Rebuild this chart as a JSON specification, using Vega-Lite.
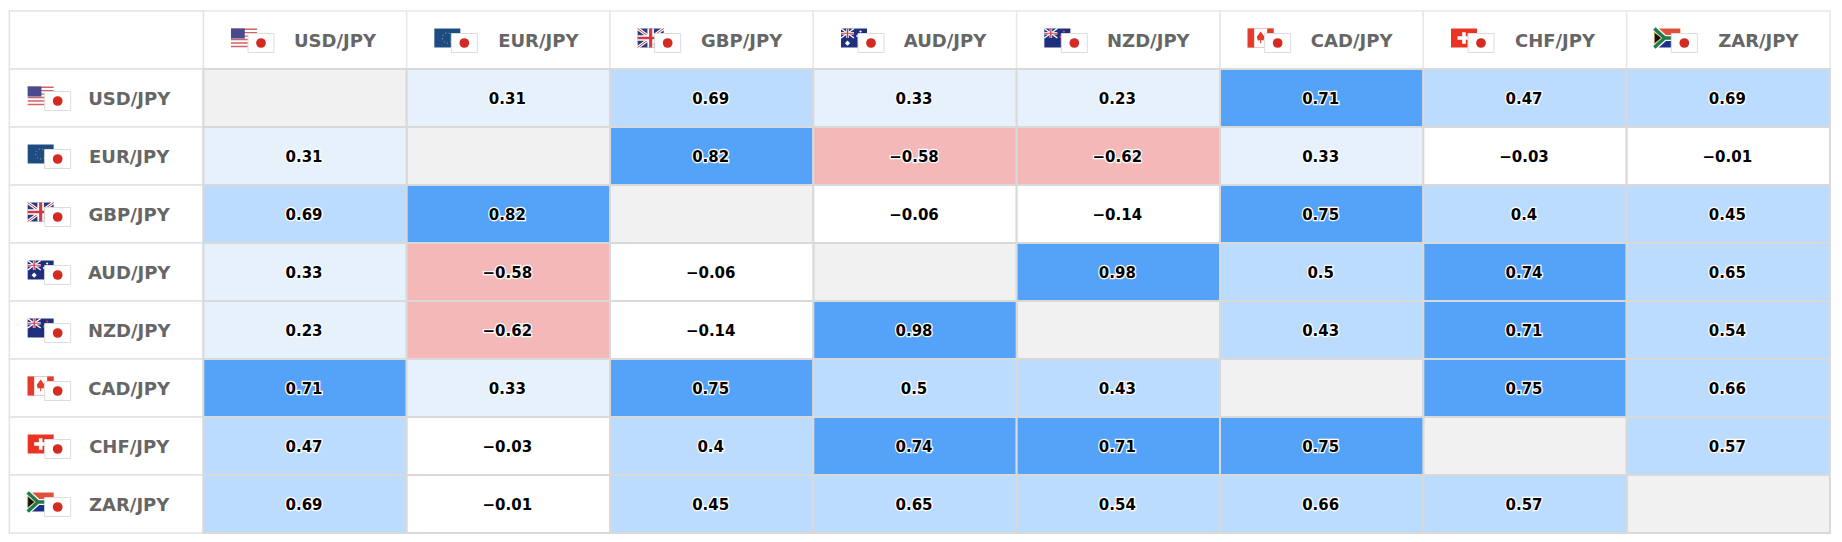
{"$schema":"https://vega.github.io/schema/vega-lite/v6.json","width":1830,"height":522,"padding":{"left":0,"top":11,"right":12,"bottom":9},"autosize":"none","background":"#ffffff","view":{"stroke":null},
"datasets":{
"cells":[
{"row":"USD/JPY","col":"USD/JPY","value":null},{"row":"USD/JPY","col":"EUR/JPY","value":0.31},{"row":"USD/JPY","col":"GBP/JPY","value":0.69},{"row":"USD/JPY","col":"AUD/JPY","value":0.33},{"row":"USD/JPY","col":"NZD/JPY","value":0.23},{"row":"USD/JPY","col":"CAD/JPY","value":0.71},{"row":"USD/JPY","col":"CHF/JPY","value":0.47},{"row":"USD/JPY","col":"ZAR/JPY","value":0.69},
{"row":"EUR/JPY","col":"USD/JPY","value":0.31},{"row":"EUR/JPY","col":"EUR/JPY","value":null},{"row":"EUR/JPY","col":"GBP/JPY","value":0.82},{"row":"EUR/JPY","col":"AUD/JPY","value":-0.58},{"row":"EUR/JPY","col":"NZD/JPY","value":-0.62},{"row":"EUR/JPY","col":"CAD/JPY","value":0.33},{"row":"EUR/JPY","col":"CHF/JPY","value":-0.03},{"row":"EUR/JPY","col":"ZAR/JPY","value":-0.01},
{"row":"GBP/JPY","col":"USD/JPY","value":0.69},{"row":"GBP/JPY","col":"EUR/JPY","value":0.82},{"row":"GBP/JPY","col":"GBP/JPY","value":null},{"row":"GBP/JPY","col":"AUD/JPY","value":-0.06},{"row":"GBP/JPY","col":"NZD/JPY","value":-0.14},{"row":"GBP/JPY","col":"CAD/JPY","value":0.75},{"row":"GBP/JPY","col":"CHF/JPY","value":0.4},{"row":"GBP/JPY","col":"ZAR/JPY","value":0.45},
{"row":"AUD/JPY","col":"USD/JPY","value":0.33},{"row":"AUD/JPY","col":"EUR/JPY","value":-0.58},{"row":"AUD/JPY","col":"GBP/JPY","value":-0.06},{"row":"AUD/JPY","col":"AUD/JPY","value":null},{"row":"AUD/JPY","col":"NZD/JPY","value":0.98},{"row":"AUD/JPY","col":"CAD/JPY","value":0.5},{"row":"AUD/JPY","col":"CHF/JPY","value":0.74},{"row":"AUD/JPY","col":"ZAR/JPY","value":0.65},
{"row":"NZD/JPY","col":"USD/JPY","value":0.23},{"row":"NZD/JPY","col":"EUR/JPY","value":-0.62},{"row":"NZD/JPY","col":"GBP/JPY","value":-0.14},{"row":"NZD/JPY","col":"AUD/JPY","value":0.98},{"row":"NZD/JPY","col":"NZD/JPY","value":null},{"row":"NZD/JPY","col":"CAD/JPY","value":0.43},{"row":"NZD/JPY","col":"CHF/JPY","value":0.71},{"row":"NZD/JPY","col":"ZAR/JPY","value":0.54},
{"row":"CAD/JPY","col":"USD/JPY","value":0.71},{"row":"CAD/JPY","col":"EUR/JPY","value":0.33},{"row":"CAD/JPY","col":"GBP/JPY","value":0.75},{"row":"CAD/JPY","col":"AUD/JPY","value":0.5},{"row":"CAD/JPY","col":"NZD/JPY","value":0.43},{"row":"CAD/JPY","col":"CAD/JPY","value":null},{"row":"CAD/JPY","col":"CHF/JPY","value":0.75},{"row":"CAD/JPY","col":"ZAR/JPY","value":0.66},
{"row":"CHF/JPY","col":"USD/JPY","value":0.47},{"row":"CHF/JPY","col":"EUR/JPY","value":-0.03},{"row":"CHF/JPY","col":"GBP/JPY","value":0.4},{"row":"CHF/JPY","col":"AUD/JPY","value":0.74},{"row":"CHF/JPY","col":"NZD/JPY","value":0.71},{"row":"CHF/JPY","col":"CAD/JPY","value":0.75},{"row":"CHF/JPY","col":"CHF/JPY","value":null},{"row":"CHF/JPY","col":"ZAR/JPY","value":0.57},
{"row":"ZAR/JPY","col":"USD/JPY","value":0.69},{"row":"ZAR/JPY","col":"EUR/JPY","value":-0.01},{"row":"ZAR/JPY","col":"GBP/JPY","value":0.45},{"row":"ZAR/JPY","col":"AUD/JPY","value":0.65},{"row":"ZAR/JPY","col":"NZD/JPY","value":0.54},{"row":"ZAR/JPY","col":"CAD/JPY","value":0.66},{"row":"ZAR/JPY","col":"CHF/JPY","value":0.57},{"row":"ZAR/JPY","col":"ZAR/JPY","value":null}],
"heads":[
{"row":"header","col":"label","pair":""},
{"row":"header","col":"USD/JPY","pair":"USD/JPY"},{"row":"header","col":"EUR/JPY","pair":"EUR/JPY"},{"row":"header","col":"GBP/JPY","pair":"GBP/JPY"},{"row":"header","col":"AUD/JPY","pair":"AUD/JPY"},{"row":"header","col":"NZD/JPY","pair":"NZD/JPY"},{"row":"header","col":"CAD/JPY","pair":"CAD/JPY"},{"row":"header","col":"CHF/JPY","pair":"CHF/JPY"},{"row":"header","col":"ZAR/JPY","pair":"ZAR/JPY"},
{"row":"USD/JPY","col":"label","pair":"USD/JPY"},{"row":"EUR/JPY","col":"label","pair":"EUR/JPY"},{"row":"GBP/JPY","col":"label","pair":"GBP/JPY"},{"row":"AUD/JPY","col":"label","pair":"AUD/JPY"},{"row":"NZD/JPY","col":"label","pair":"NZD/JPY"},{"row":"CAD/JPY","col":"label","pair":"CAD/JPY"},{"row":"CHF/JPY","col":"label","pair":"CHF/JPY"},{"row":"ZAR/JPY","col":"label","pair":"ZAR/JPY"}]},
"encoding":{
"x":{"field":"col","type":"nominal","axis":null,"scale":{"domain":["label","USD/JPY","EUR/JPY","GBP/JPY","AUD/JPY","NZD/JPY","CAD/JPY","CHF/JPY","ZAR/JPY"],"paddingInner":0,"paddingOuter":0}},
"y":{"field":"row","type":"nominal","axis":null,"scale":{"domain":["header","USD/JPY","EUR/JPY","GBP/JPY","AUD/JPY","NZD/JPY","CAD/JPY","CHF/JPY","ZAR/JPY"],"paddingInner":0,"paddingOuter":0}}},
"layer":[
{"data":{"name":"heads"},"transform":[{"filter":"datum.row==='header'&&datum.col!=='label'"}],"mark":{"type":"rect","fill":"#ffffff","stroke":"#e4e9e9","strokeWidth":1.5}},
{"data":{"name":"heads"},"transform":[{"filter":"datum.col==='label'"}],"mark":{"type":"rect","fill":"#ffffff","stroke":"#e0e3e3","strokeWidth":1.5,"width":194,"xOffset":4.7}},
{"data":{"name":"cells"},"transform":[{"filter":"datum.value===null"}],"mark":{"type":"rect","fill":"#f1f1f1","stroke":"#d9d9d9","strokeWidth":2}},
{"data":{"name":"cells"},"transform":[{"filter":"datum.value!==null"}],"mark":{"type":"rect","stroke":"#d9d9d9","strokeWidth":2},"encoding":{"fill":{"field":"value","type":"quantitative","legend":null,"scale":{"type":"threshold","domain":[-0.5,0.2,0.4,0.7],"range":["#f5b8b8","#ffffff","#e6f1fc","#bbdcfe","#55a3f8"]}}}},
{"data":{"name":"cells"},"transform":[{"filter":"datum.value!==null"}],"mark":{"type":"text","font":"DejaVu Sans","fontWeight":"bold","fontSize":15,"stroke":"#ffffff","strokeWidth":2.5,"fill":"#ffffff","xOffset":-1,"yOffset":1},"encoding":{"text":{"field":"value","type":"quantitative","format":".2~f"}}},
{"data":{"name":"cells"},"transform":[{"filter":"datum.value!==null"}],"mark":{"type":"text","font":"DejaVu Sans","fontWeight":"bold","fontSize":15,"fill":"#000000","xOffset":-1,"yOffset":1},"encoding":{"text":{"field":"value","type":"quantitative","format":".2~f"}}},
{"data":{"name":"heads"},"transform":[{"filter":"datum.row==='header'&&datum.col!=='label'"}],"mark":{"type":"text","font":"DejaVu Sans","fontWeight":"bold","fontSize":18,"fill":"#666666","xOffset":30,"yOffset":2},"encoding":{"text":{"field":"pair"}}},
{"data":{"name":"heads"},"transform":[{"filter":"datum.col==='label'"}],"mark":{"type":"text","font":"DejaVu Sans","fontWeight":"bold","fontSize":18,"fill":"#666666","xOffset":27.5,"yOffset":2},"encoding":{"text":{"field":"pair"}}},

{"data":{"name":"heads"},"transform":[{"filter":"test(/^USD/,datum.pair)"}],"mark":{"type":"point","filled":true,"opacity":1,"size":676,"xOffset":-61,"yOffset":-2,"fill":"#ffffff","stroke":null,"shape":"M-1,-.73H1V.73H-1Z"}},
{"data":{"name":"heads"},"transform":[{"filter":"test(/^USD/,datum.pair)"}],"mark":{"type":"point","filled":true,"opacity":1,"size":676,"xOffset":-61,"yOffset":-2,"fill":"#d4626a","stroke":null,"shape":"M-1,-.73H1V-.62H-1ZM-1,-.47H1V-.36H-1ZM-1,-.2H1V-.09H-1ZM-1,.06H1V.17H-1ZM-1,.33H1V.44H-1ZM-1,.6H1V.71H-1Z"}},
{"data":{"name":"heads"},"transform":[{"filter":"test(/^USD/,datum.pair)"}],"mark":{"type":"point","filled":true,"opacity":1,"size":676,"xOffset":-61,"yOffset":-2,"fill":"#4a4a8e","stroke":null,"shape":"M-1,-.73H.06V.04H-1Z"}},

{"data":{"name":"heads"},"transform":[{"filter":"test(/^EUR/,datum.pair)"}],"mark":{"type":"point","filled":true,"opacity":1,"size":676,"xOffset":-61,"yOffset":-2,"fill":"#1d4c82","stroke":null,"shape":"M-1,-.73H1V.73H-1Z"}},
{"data":{"name":"heads"},"transform":[{"filter":"test(/^EUR/,datum.pair)"}],"mark":{"type":"point","filled":false,"opacity":1,"size":100,"xOffset":-61,"yOffset":-2,"stroke":"#c9b84a","strokeWidth":1,"strokeDash":[1,2.5],"shape":"circle"}},

{"data":{"name":"heads"},"transform":[{"filter":"test(/^GBP/,datum.pair)"}],"mark":{"type":"point","filled":true,"opacity":1,"size":676,"xOffset":-61,"yOffset":-2,"fill":"#27397f","stroke":null,"shape":"M-1,-.73H1V.73H-1Z"}},
{"data":{"name":"heads"},"transform":[{"filter":"test(/^GBP/,datum.pair)"}],"mark":{"type":"point","filled":false,"opacity":1,"size":676,"xOffset":-61,"yOffset":-2,"stroke":"#ffffff","strokeWidth":3,"shape":"M-1,-.73L1,.73M-1,.73L1,-.73"}},
{"data":{"name":"heads"},"transform":[{"filter":"test(/^GBP/,datum.pair)"}],"mark":{"type":"point","filled":false,"opacity":1,"size":676,"xOffset":-61,"yOffset":-2,"stroke":"#cf3a45","strokeWidth":1,"shape":"M-1,-.73L1,.73M-1,.73L1,-.73"}},
{"data":{"name":"heads"},"transform":[{"filter":"test(/^GBP/,datum.pair)"}],"mark":{"type":"point","filled":true,"opacity":1,"size":676,"xOffset":-61,"yOffset":-2,"fill":"#ffffff","stroke":null,"shape":"M-.25,-.73H.25V.73H-.25ZM-1,-.22H1V.22H-1Z"}},
{"data":{"name":"heads"},"transform":[{"filter":"test(/^GBP/,datum.pair)"}],"mark":{"type":"point","filled":true,"opacity":1,"size":676,"xOffset":-61,"yOffset":-2,"fill":"#cf3a45","stroke":null,"shape":"M-.12,-.73H.12V.73H-.12ZM-1,-.1H1V.1H-1Z"}},

{"data":{"name":"heads"},"transform":[{"filter":"test(/^(AUD|NZD)/,datum.pair)"}],"mark":{"type":"point","filled":true,"opacity":1,"size":676,"xOffset":-61,"yOffset":-2,"fill":"#1f2f7d","stroke":null,"shape":"M-1,-.73H1V.73H-1Z"}},
{"data":{"name":"heads"},"transform":[{"filter":"test(/^(AUD|NZD)/,datum.pair)"}],"mark":{"type":"point","filled":false,"opacity":1,"size":676,"xOffset":-61,"yOffset":-2,"stroke":"#ffffff","strokeWidth":1.5,"shape":"M-1,-.73L0,0M-1,0L0,-.73"}},
{"data":{"name":"heads"},"transform":[{"filter":"test(/^(AUD|NZD)/,datum.pair)"}],"mark":{"type":"point","filled":true,"opacity":1,"size":676,"xOffset":-61,"yOffset":-2,"fill":"#ffffff","stroke":null,"shape":"M-.6,-.73H-.4V0H-.6ZM-1,-.46H0V-.27H-1Z"}},
{"data":{"name":"heads"},"transform":[{"filter":"test(/^(AUD|NZD)/,datum.pair)"}],"mark":{"type":"point","filled":true,"opacity":1,"size":676,"xOffset":-61,"yOffset":-2,"fill":"#cf3a45","stroke":null,"shape":"M-.55,-.73H-.45V0H-.55ZM-1,-.41H0V-.32H-1Z"}},
{"data":{"name":"heads"},"transform":[{"filter":"test(/^AUD/,datum.pair)"}],"mark":{"type":"point","filled":true,"opacity":1,"size":676,"xOffset":-61,"yOffset":-2,"fill":"#ffffff","stroke":null,"shape":"M-.5,.2L-.3,.4L-.5,.6L-.7,.4ZM.5,-.6L.6,-.5L.5,-.4L.4,-.5ZM.75,-.3L.85,-.2L.75,-.1L.65,-.2ZM.25,-.25L.35,-.15L.25,-.05L.15,-.15Z"}},
{"data":{"name":"heads"},"transform":[{"filter":"test(/^NZD/,datum.pair)"}],"mark":{"type":"point","filled":true,"opacity":1,"size":676,"xOffset":-61,"yOffset":-2,"fill":"#e04050","stroke":null,"shape":"M.5,-.6L.6,-.5L.5,-.4L.4,-.5ZM.75,-.25L.85,-.15L.75,-.05L.65,-.15ZM.25,-.2L.35,-.1L.25,0L.15,-.1ZM.5,.2L.6,.3L.5,.4L.4,.3Z"}},

{"data":{"name":"heads"},"transform":[{"filter":"test(/^CAD/,datum.pair)"}],"mark":{"type":"point","filled":true,"opacity":1,"size":676,"xOffset":-61,"yOffset":-2,"fill":"#ffffff","stroke":"#eeaaaa","strokeWidth":0.7,"shape":"M-1,-.73H1V.73H-1Z"}},
{"data":{"name":"heads"},"transform":[{"filter":"test(/^CAD/,datum.pair)"}],"mark":{"type":"point","filled":true,"opacity":1,"size":676,"xOffset":-61,"yOffset":-2,"fill":"#e33b2e","stroke":null,"shape":"M-1,-.73H-.5V.73H-1ZM.5,-.73H1V.73H.5ZM0,-.5L.3,-.1L.22,.2L0,.15L-.22,.2L-.3,-.1ZM-.04,.15H.04V.4H-.04Z"}},

{"data":{"name":"heads"},"transform":[{"filter":"test(/^CHF/,datum.pair)"}],"mark":{"type":"point","filled":true,"opacity":1,"size":676,"xOffset":-61,"yOffset":-2,"fill":"#ea3323","stroke":null,"shape":"M-1,-.73H1V.73H-1Z"}},
{"data":{"name":"heads"},"transform":[{"filter":"test(/^CHF/,datum.pair)"}],"mark":{"type":"point","filled":true,"opacity":1,"size":676,"xOffset":-61,"yOffset":-2,"fill":"#ffffff","stroke":null,"shape":"M-.14,-.45H.14V-.14H.5V.14H.14V.45H-.14V.14H-.5V-.14H-.14Z"}},

{"data":{"name":"heads"},"transform":[{"filter":"test(/^ZAR/,datum.pair)"}],"mark":{"type":"point","filled":true,"opacity":1,"size":676,"xOffset":-61,"yOffset":-2,"fill":"#e0503f","stroke":null,"shape":"M-1,-.73H1V0H-1Z"}},
{"data":{"name":"heads"},"transform":[{"filter":"test(/^ZAR/,datum.pair)"}],"mark":{"type":"point","filled":true,"opacity":1,"size":676,"xOffset":-61,"yOffset":-2,"fill":"#1c2f8a","stroke":null,"shape":"M-1,0H1V.73H-1Z"}},
{"data":{"name":"heads"},"transform":[{"filter":"test(/^ZAR/,datum.pair)"}],"mark":{"type":"point","filled":false,"opacity":1,"size":676,"xOffset":-61,"yOffset":-2,"stroke":"#ffffff","strokeWidth":6,"shape":"M-1,-.73L-.2,0H1M-1,.73L-.2,0"}},
{"data":{"name":"heads"},"transform":[{"filter":"test(/^ZAR/,datum.pair)"}],"mark":{"type":"point","filled":false,"opacity":1,"size":676,"xOffset":-61,"yOffset":-2,"stroke":"#1f7a4a","strokeWidth":3.5,"shape":"M-1,-.73L-.2,0H1M-1,.73L-.2,0"}},
{"data":{"name":"heads"},"transform":[{"filter":"test(/^ZAR/,datum.pair)"}],"mark":{"type":"point","filled":true,"opacity":1,"size":676,"xOffset":-61,"yOffset":-2,"fill":"#111111","stroke":"#e0b84a","strokeWidth":0.8,"shape":"M-1,-.45L-.45,0L-1,.45Z"}},

{"data":{"name":"heads"},"transform":[{"filter":"datum.pair!==''"}],"mark":{"type":"point","filled":true,"opacity":1,"size":676,"xOffset":-44,"yOffset":3,"fill":"#ffffff","stroke":"#dcdcdc","strokeWidth":1,"shape":"M-1,-.73H1V.73H-1Z"}},
{"data":{"name":"heads"},"transform":[{"filter":"datum.pair!==''"}],"mark":{"type":"point","filled":true,"opacity":1,"size":95,"xOffset":-44,"yOffset":3,"fill":"#d32a22","stroke":null,"shape":"circle"}}
]}
